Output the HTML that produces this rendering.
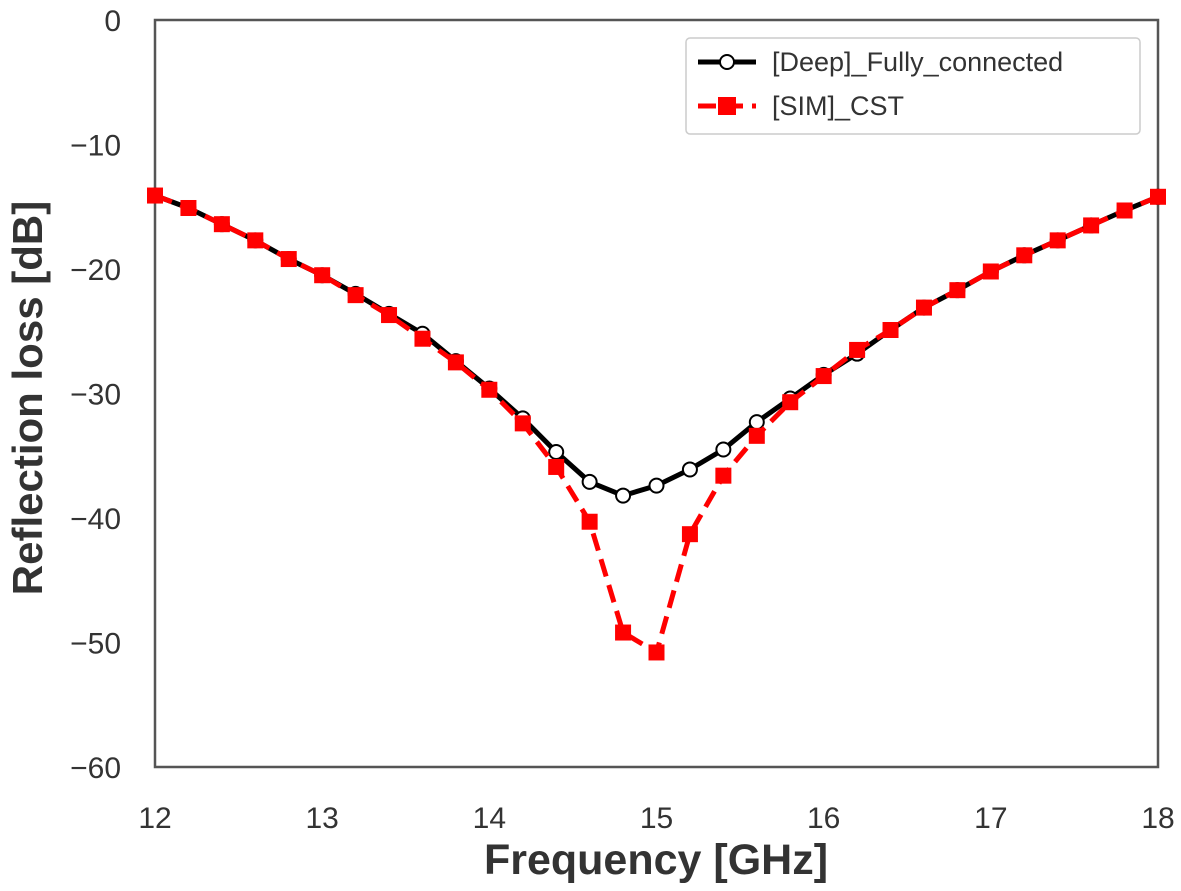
<!DOCTYPE html>
<html><head><meta charset="utf-8"><style>
body{margin:0;background:#fff}
svg{display:block;font-family:"Liberation Sans",Arial,sans-serif}
</style></head><body>
<svg id="chart" width="1181" height="891">
<rect x="155" y="20" width="1003" height="747" fill="#fff" stroke="#555" stroke-width="2.5"/>
<g id="ticks"></g>
<g id="series"></g>
<text x="656" y="874" text-anchor="middle" font-size="43" font-weight="bold" fill="#333">Frequency [GHz]</text>
<text transform="translate(42,398) rotate(-90)" text-anchor="middle" font-size="42" font-weight="bold" fill="#333">Reflection loss [dB]</text>
<g>
<rect x="686" y="38" width="454" height="96" rx="4" fill="#fff" stroke="#ccc" stroke-width="1.5"/>
<g>
<line x1="698" y1="62" x2="756" y2="62" stroke="#000" stroke-width="5"/>
<circle cx="727" cy="62" r="7" fill="#fff" stroke="#000" stroke-width="2"/>
<text x="772" y="71" font-size="27" fill="#333">[Deep]_Fully_connected</text>
</g>
<g>
<line x1="698" y1="106" x2="756" y2="106" stroke="#f00" stroke-width="5" stroke-dasharray="18,9"/>
<rect x="718" y="97" width="18" height="18" fill="#f00"/>
<text x="772" y="115" font-size="27" fill="#333">[SIM]_CST</text>
</g>
</g>
</svg>
<script>
const freq=[12,12.2,12.4,12.6,12.8,13,13.2,13.4,13.6,13.8,14,14.2,14.4,14.6,14.8,15,15.2,15.4,15.6,15.8,16,16.2,16.4,16.6,16.8,17,17.2,17.4,17.6,17.8,18];
const deep=[-14.1,-15.1,-16.4,-17.7,-19.2,-20.5,-22.0,-23.6,-25.2,-27.4,-29.6,-32.0,-34.7,-37.1,-38.2,-37.4,-36.1,-34.5,-32.3,-30.4,-28.5,-26.8,-24.9,-23.1,-21.7,-20.2,-18.9,-17.7,-16.5,-15.3,-14.2];
const sim=[-14.1,-15.1,-16.4,-17.7,-19.2,-20.5,-22.1,-23.7,-25.6,-27.5,-29.7,-32.4,-35.9,-40.3,-49.2,-50.8,-41.3,-36.6,-33.4,-30.7,-28.6,-26.5,-24.9,-23.1,-21.7,-20.2,-18.9,-17.7,-16.5,-15.3,-14.2];
const xTicks=[12,13,14,15,16,17,18];
const yTicks=[0,-10,-20,-30,-40,-50,-60];
const NS="http://www.w3.org/2000/svg";
const X=v=>155+(v-12)/6*1003;
const Y=v=>20+(-v)/60*747;
function mk(t,a,p){const e=document.createElementNS(NS,t);for(const k in a)e.setAttribute(k,a[k]);p.appendChild(e);return e;}
const tg=document.getElementById('ticks');
xTicks.forEach(v=>{const t=mk('text',{x:X(v),y:828,'text-anchor':'middle','font-size':30,fill:'#333'},tg);t.textContent=v;

});
yTicks.forEach(v=>{const t=mk('text',{x:121,y:Y(v)+11,'text-anchor':'end','font-size':30,fill:'#333'},tg);t.textContent=v===0?'0':'\u2212'+Math.abs(v);

});
const sg=document.getElementById('series');
const pd=vals=>vals.map((v,i)=>(i?'L':'M')+X(freq[i]).toFixed(1)+','+Y(v).toFixed(1)).join('');
const dl=mk('path',{d:pd(deep),fill:'none',stroke:'#000','stroke-width':5,'stroke-linejoin':'round'},sg);


deep.forEach((v,i)=>{const c=mk('circle',{cx:X(freq[i]),cy:Y(v),r:7,fill:'#fff',stroke:'#000','stroke-width':2},sg);

});
const sl=mk('path',{d:pd(sim),fill:'none',stroke:'#f00','stroke-width':5,'stroke-dasharray':'18,9'},sg);


sim.forEach((v,i)=>{const r=mk('rect',{x:X(freq[i])-8,y:Y(v)-8,width:16,height:16,fill:'#f00'},sg);

});
</script>
</body></html>
